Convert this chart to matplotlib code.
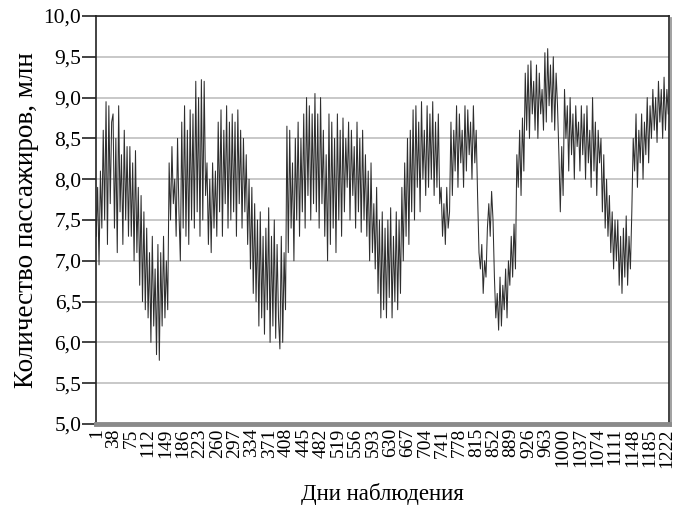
import matplotlib
matplotlib.use("Agg")
import matplotlib.pyplot as plt
import matplotlib.transforms as mtransforms
from matplotlib.ticker import FuncFormatter

# daily passenger counts (mln), one reading every 3rd day starting at day 1
passengers = [
    7.3, 7.9, 6.95, 8.1, 7.4, 8.6, 7.5, 8.95, 7.2, 8.9, 7.7, 8.7,
    8.8, 7.4, 8.5, 7.1, 8.9, 7.6, 8.3, 7.2, 8.6, 7.5, 8.4, 7.3,
    8.4, 7.3, 8.2, 7.0, 8.35, 7.1, 7.9, 6.7, 7.8, 6.5, 7.6, 6.4,
    7.4, 6.3, 7.1, 6.0, 7.3, 6.2, 6.9, 5.85, 7.2, 5.78, 7.1, 6.2,
    7.3, 6.3, 7.0, 6.4, 8.2, 7.5, 8.4, 7.7, 8.0, 7.3, 8.5, 7.6,
    7.0, 8.7, 7.4, 8.9, 7.3, 8.6, 7.2, 8.85, 7.5, 8.8, 7.4, 9.2,
    7.6, 9.0, 7.3, 9.22, 7.5, 9.2, 7.8, 8.2, 7.2, 8.0, 7.1, 8.2,
    7.4, 8.1, 7.3, 8.7, 7.6, 8.85, 7.3, 8.6, 7.7, 8.9, 7.4, 8.7,
    7.5, 8.8, 7.6, 8.7, 7.3, 8.85, 7.7, 8.6, 7.4, 8.5, 7.6, 8.3,
    7.2, 8.0, 6.9, 7.9, 6.6, 7.7, 6.5, 7.5, 6.2, 7.6, 6.3, 7.3,
    6.1, 7.4, 6.4, 7.65, 6.0, 7.3, 6.2, 7.5, 6.05, 7.2, 6.3, 5.92,
    7.3, 6.0, 7.1, 6.4, 8.65, 7.1, 8.6, 7.4, 8.2, 7.0, 8.5, 7.5,
    8.7, 7.3, 8.5, 7.6, 8.8, 7.4, 9.0, 7.8, 8.9, 7.5, 8.8, 7.7,
    9.05, 7.6, 8.8, 7.4, 9.0, 7.7, 8.6, 7.3, 8.3, 7.0, 8.8, 7.2,
    8.7, 7.4, 8.5, 7.1, 8.8, 7.5, 8.6, 7.3, 8.75, 7.6, 8.5, 7.9,
    8.7, 7.5, 8.6, 7.8, 8.4, 7.4, 8.7, 7.6, 8.5, 7.35, 8.6, 7.5,
    8.3, 7.3, 8.1, 7.0, 8.2, 7.1, 7.7, 6.9, 7.9, 6.6, 7.5, 6.3,
    7.6, 6.4, 7.4, 6.3, 7.5, 6.55, 7.65, 6.3, 7.3, 6.5, 7.6, 6.4,
    7.5, 6.6, 7.9, 7.0, 8.2, 7.3, 8.5, 7.2, 8.6, 7.6, 8.85, 7.5,
    8.9, 7.9, 8.7, 7.6, 8.95, 8.0, 8.6, 7.8, 8.9, 7.9, 8.8, 8.0,
    8.95, 7.8, 8.7, 7.9, 8.8, 7.7, 7.9, 7.3, 7.7, 7.2, 7.9, 7.4,
    7.6, 8.7, 7.8, 8.6, 8.1, 8.9, 7.9, 8.8, 8.2, 8.6, 7.9, 8.9,
    8.1, 8.85, 8.3, 8.7, 8.0, 8.9, 8.2, 8.6, 7.8, 7.1, 6.9, 7.2,
    6.6, 7.0, 6.8, 7.4, 7.7, 7.3, 7.85, 7.5, 6.8, 6.3, 6.6, 6.15,
    6.8, 6.2, 6.7, 6.4, 6.9, 6.3, 7.0, 6.7, 7.3, 6.8, 7.45, 6.9,
    8.3, 7.9, 8.6, 7.8, 8.75, 8.1, 9.3, 8.6, 9.4, 8.5, 9.45, 8.8,
    9.2, 8.6, 9.4, 8.5, 9.3, 8.8, 9.1, 8.6, 9.55, 8.7, 9.6, 8.9,
    9.4, 8.7, 9.5, 8.6, 9.3, 8.9, 8.3, 7.6, 8.4, 7.8, 9.1, 8.5,
    8.9, 8.1, 9.0, 8.3, 8.8, 8.0, 8.9, 8.4, 8.7, 8.1, 8.9, 8.3,
    8.8, 8.0, 8.9, 8.2, 8.6, 7.9, 9.0, 8.1, 8.7, 7.8, 8.6, 8.2,
    8.5, 7.6, 8.3, 7.4, 8.0, 7.3, 7.8, 7.1, 7.6, 6.9, 7.5, 7.0,
    7.5, 6.7, 7.3, 6.6, 7.4, 6.8, 7.55, 6.7, 7.3, 6.9, 7.6, 8.5,
    8.1, 8.8, 7.9, 8.6, 8.2, 8.8, 8.0, 8.7, 8.3, 9.0, 8.2, 8.9,
    8.5, 9.1, 8.6, 9.0, 8.45, 9.2, 8.7, 9.1, 8.5, 9.25, 8.6, 9.1,
    8.8,
]
days = list(range(1, 3 * len(passengers), 3))

n_days = 1226
tick_days = list(range(1, n_days, 37))
y_ticks = [5.0, 5.5, 6.0, 6.5, 7.0, 7.5, 8.0, 8.5, 9.0, 9.5, 10.0]

plt.rcParams['font.family'] = ['Liberation Serif', 'DejaVu Serif']

fig = plt.figure(figsize=(6.76, 5.08), dpi=100)
ax = fig.add_axes([0.142, 0.1654, 0.8476, 0.8031])

ax.plot(days, passengers, color='#2e2e2e', lw=0.75)

ax.set_xlim(0.5, n_days + 0.5)
ax.set_ylim(5.0, 10.0)
ax.set_yticks(y_ticks)
ax.yaxis.set_major_formatter(FuncFormatter(lambda v, p: f"{v:.1f}".replace('.', ',')))
ax.set_xticks(tick_days)
ax.set_xticklabels([str(d) for d in tick_days], rotation=90, fontsize=14)
ax.tick_params(axis='x', length=0, pad=3)
ax.tick_params(axis='y', length=10, width=1.2, direction='out', labelsize=15.5, pad=0.5, color='#222222')

ax.grid(axis='y', color='#c4c4c4', lw=1.3)
ax.set_axisbelow(True)

for side in ['left', 'top', 'right']:
    ax.spines[side].set_color('#222222')
    ax.spines[side].set_linewidth(1.2)
ax.spines['bottom'].set_color('#8a8a8a')
ax.spines['bottom'].set_linewidth(3.5)

# thin shadow along the right border
shadow = mtransforms.offset_copy(ax.transAxes, fig=fig, x=1.6, y=-1.2, units='points')
ax.plot([1, 1], [0, 1], transform=shadow, color='#9a9a9a', lw=1.3, clip_on=False)

ax.set_xlabel('Дни наблюдения', fontsize=16.5, labelpad=11)
ax.set_ylabel('Количество пассажиров, млн', fontsize=19.5, labelpad=3)

fig.savefig('out.png', dpi=100)
